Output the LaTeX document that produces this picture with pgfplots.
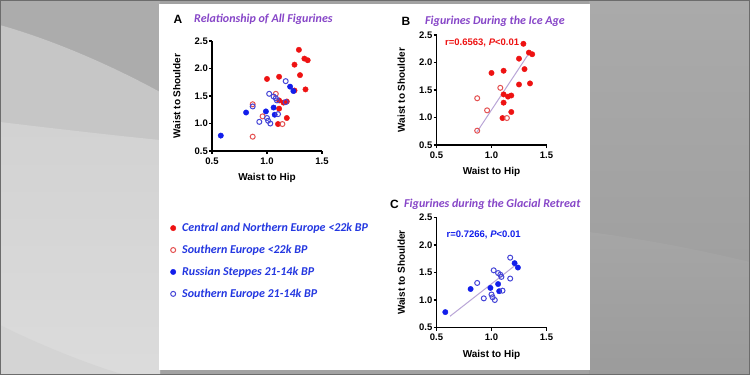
\documentclass[border=0pt]{standalone}
\usepackage{pgfplots}
\pgfplotsset{compat=1.18}
\usepackage{fontspec}
\setmainfont{Liberation Sans}
\newfontfamily\calibri{Carlito}
\definecolor{redc}{RGB}{238,18,18}
\definecolor{redo}{RGB}{228,80,80}
\definecolor{bluec}{RGB}{18,30,235}
\definecolor{blueo}{RGB}{70,70,215}
\definecolor{purp}{RGB}{135,70,200}
\definecolor{legblue}{RGB}{35,55,225}
\definecolor{regl}{RGB}{185,165,215}
\definecolor{bgbase}{RGB}{162,162,162}
\definecolor{bgtop}{RGB}{172,172,172}
\definecolor{bgmid}{RGB}{198,198,198}
\definecolor{bglight}{RGB}{221,221,221}
\definecolor{bgright}{RGB}{160,160,160}
\definecolor{bgright2}{RGB}{170,170,170}

\pgfplotstableread{
x y
1.29 2.34
1.34 2.18
1.37 2.15
1.25 2.07
1.30 1.88
1.00 1.81
1.11 1.85
1.25 1.60
1.35 1.62
1.11 1.42
1.15 1.38
1.18 1.40
1.11 1.27
1.18 1.10
1.10 0.99
}\redfilled
\pgfplotstableread{
x y
1.08 1.54
0.87 1.35
0.96 1.13
1.14 0.99
0.87 0.76
}\redopen
\pgfplotstableread{
x y
0.58 0.78
0.81 1.20
0.99 1.22
1.06 1.29
1.07 1.16
1.21 1.67
1.24 1.59
}\bluefilled
\pgfplotstableread{
x y
0.87 1.31
0.93 1.03
1.00 1.10
1.01 1.05
1.03 1.00
1.02 1.54
1.06 1.49
1.08 1.46
1.09 1.42
1.10 1.17
1.17 1.77
1.17 1.39
}\blueopen

\pgfplotsset{prism/.style={
  scale only axis, width=110pt, height=110pt,
  xmin=0.5, xmax=1.5, ymin=0.5, ymax=2.5,
  axis x line*=bottom, axis y line*=left,
  axis line style={line width=1.3pt,-},
  xtick={0.5,1,1.5}, xticklabels={0.5,1.0,1.5},
  ytick={0.5,1,1.5,2,2.5}, yticklabels={0.5,1.0,1.5,2.0,2.5},
  tick align=outside, major tick length=3pt,
  tick style={line width=1.2pt,black},
  /pgf/number format/assume math mode=true,
  ticklabel style={font=\bfseries\fontsize{9.5}{10}\selectfont},
  yticklabel style={inner sep=1pt},
  xlabel={Waist to Hip}, ylabel={Waist to Shoulder},
  label style={font=\bfseries\fontsize{10}{12}\selectfont},
  xlabel style={at={(axis description cs:0.5,-0.245)}, anchor=center},
  ylabel style={at={(axis description cs:-0.32,0.5)}, anchor=center},
  clip=false,
},
rf/.style={only marks, mark=*, mark size=2.7pt, color=redc, mark options={fill=redc, draw=redc}},
ro/.style={only marks, mark=o, mark size=2.5pt, color=redo, mark options={line width=1pt}},
bf/.style={only marks, mark=*, mark size=2.7pt, color=bluec, mark options={fill=bluec, draw=bluec}},
bo/.style={only marks, mark=o, mark size=2.5pt, color=blueo, mark options={line width=1pt}},
}

\begin{document}
\begin{tikzpicture}
\begin{scope}[x=1pt,y=-1pt]
  % background
  \fill[bgbase] (0,0) rectangle (750,375);
  \fill[bgtop] (0,0) -- (160,0) -- (160,92) .. controls (120,70) and (60,42) .. (0,25) -- cycle;
  \fill[bgmid] (0,25) .. controls (60,42) and (120,70) .. (160,92) -- (160,375) -- (0,375) -- cycle;
  \shade[top color=bglight!95!black, bottom color=bglight!105!white] (0,122) .. controls (50,128) and (110,135) .. (160,140) -- (160,375) -- (0,375) -- cycle;
  \fill[bglight!96!black] (0,325) .. controls (40,345) and (90,365) .. (125,375) -- (0,375) -- cycle;
  \shade[top color=bgright2, bottom color=bgright] (589,0) rectangle (750,262);
  \shade[top color=bgright2!105!white, bottom color=bgright!97!black] (589,232) .. controls (650,240) and (700,250) .. (750,262) -- (750,375) -- (589,375) -- cycle;
  \draw[gray!85!black, line width=1pt] (0.5,0.5) rectangle (749.5,374.5);
  % white panel
  \fill[white] (159,4) rectangle (589.5,370);
  % titles
  \node[anchor=west, inner sep=0pt, font=\bfseries\fontsize{12}{12}\selectfont] at (173.5,19.5) {A};
  \node[anchor=west, inner sep=0pt, text=purp, font=\calibri\bfseries\itshape\fontsize{12}{14}\selectfont] at (194,19.5) {Relationship\ of\ All Figurines};
  \node[anchor=west, inner sep=0pt, font=\bfseries\fontsize{12}{12}\selectfont] at (401.5,21) {B};
  \node[anchor=west, inner sep=0pt, text=purp, font=\calibri\bfseries\itshape\fontsize{12}{14}\selectfont] at (425,21) {Figurines During the Ice Age};
  \node[anchor=west, inner sep=0pt, font=\bfseries\fontsize{12}{12}\selectfont] at (390,204.5) {C};
  \begin{scope}
    \clip (0,0) rectangle (589.5,375);
    \node[anchor=west, inner sep=0pt, text=purp, font=\calibri\bfseries\itshape\fontsize{12}{14}\selectfont] at (404,204.5) {Figurines\ during the Glacial Retreat};
  \end{scope}
  % annotations
  \node[anchor=west, inner sep=0pt, text=redc, font=\bfseries\fontsize{9.5}{10}\selectfont] at (445,42.5) {r=0.6563, \textit{P}<0.01};
  \node[anchor=west, inner sep=0pt, text=bluec, font=\bfseries\fontsize{9.5}{10}\selectfont] at (446.5,234.5) {r=0.7266, \textit{P}<0.01};
\end{scope}

% Panel A
\begin{axis}[prism, at={(212pt,-151pt)}, anchor=south west,
  legend image code/.code={\draw[#1, only marks] plot coordinates {(0pt,0pt)}; \path[draw=none, fill=none] (-3pt,0pt) rectangle (8pt,0.1pt);},
  legend style={at={(axis description cs:-0.382,-0.645)}, anchor=north west,
    draw=none, fill=none, inner sep=0pt, row sep=10pt,
    font=\calibri\bfseries\itshape\fontsize{12}{14}\selectfont,
    nodes={text=legblue, inner sep=1pt}},
  legend cell align=left]
\addplot[rf] table {\redfilled};
\addlegendentry{Central and Northern Europe <22k BP}
\addplot[ro] table {\redopen};
\addlegendentry{Southern Europe\ <22k BP}
\addplot[bf] table {\bluefilled};
\addlegendentry{Russian Steppes 21-14k BP}
\addplot[bo] table {\blueopen};
\addlegendentry{Southern Europe\ 21-14k BP}
\end{axis}

% Panel B
\begin{axis}[prism, at={(436.5pt,-145pt)}, anchor=south west]
\addplot[regl, line width=1pt, no marks] coordinates {(0.867,0.735) (1.333,2.145)};
\addplot[rf] table {\redfilled};
\addplot[ro] table {\redopen};
\end{axis}

% Panel C
\begin{axis}[prism, at={(436.5pt,-327.5pt)}, anchor=south west]
\addplot[regl, line width=1pt, no marks] coordinates {(0.623,0.705) (1.222,1.64)};
\addplot[bf] table {\bluefilled};
\addplot[bo] table {\blueopen};
\end{axis}
\end{tikzpicture}
\end{document}
